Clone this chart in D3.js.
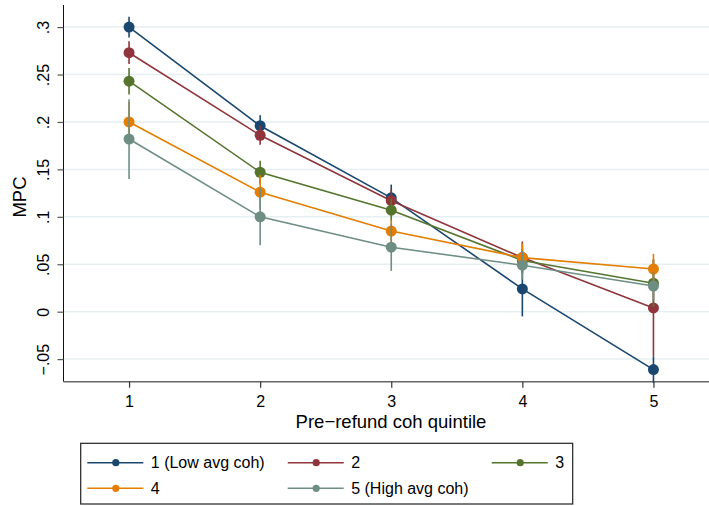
<!DOCTYPE html>
<html lang="en">
<head>
  <meta charset="UTF-8">
  <title>MPC by pre-refund coh quintile</title>
  <script src="https://d3js.org/d3.v7.min.js"></script>
  <style>
    body {
      margin: 0;
      padding: 0;
      background: #fff;
    }
    svg text {
      font-family: "Liberation Sans", Arial, sans-serif;
      fill: #000;
    }
  </style>
</head>
<body>
  <script>
    // data
    const quintiles = [1, 2, 3, 4, 5];
    const seriesNames = ["1 (Low avg coh)", "2", "3", "4", "5 (High avg coh)"];
    const mpc1 = [0.300, 0.196, 0.120, 0.024, -0.061];
    const mpc2 = [0.273, 0.186, 0.117, 0.057, 0.004];
    const mpc3 = [0.243, 0.147, 0.107, 0.054, 0.030];
    const mpc4 = [0.200, 0.126, 0.085, 0.057, 0.045];
    const mpc5 = [0.182, 0.100, 0.068, 0.049, 0.027];
    // half width of the confidence interval
    const ci1 = [0.011, 0.011, 0.014, 0.029, 0.014];
    const ci2 = [0.012, 0.010, 0.012, 0.017, 0.051];
    const ci3 = [0.014, 0.012, 0.012, 0.012, 0.025];
    const ci4 = [0.021, 0.018, 0.012, 0.015, 0.016];
    const ci5 = [0.042, 0.030, 0.025, 0.015, 0.015];
    const yTicks = [-0.05, 0, 0.05, 0.1, 0.15, 0.2, 0.25, 0.3];
    const yTickLabels = ["\u2212.05", "0", ".05", ".1", ".15", ".2", ".25", ".3"];

    const colors = ["#1a476f", "#90353b", "#55752f", "#e37e00", "#6e8e84"];
    const allMpc = [mpc1, mpc2, mpc3, mpc4, mpc5];
    const allCi = [ci1, ci2, ci3, ci4, ci5];

    const W = 709, H = 506;
    const plot = { left: 63.5, right: 719, top: 5, bottom: 381.7 };

    const svg = d3.select("body").append("svg")
      .attr("width", W)
      .attr("height", H);

    const x = d3.scaleLinear().domain([0.5, 5.5]).range([plot.left, plot.right]);
    const y = d3.scaleLinear().domain([-0.0738, 0.3233]).range([plot.bottom, plot.top]);

    // gridlines
    svg.append("g")
      .selectAll("line")
      .data(yTicks)
      .join("line")
      .attr("x1", plot.left)
      .attr("x2", W)
      .attr("y1", d => y(d))
      .attr("y2", d => y(d))
      .attr("stroke", "#e6eff1")
      .attr("stroke-width", 1.5);

    // y axis
    const yAxis = svg.append("g")
      .attr("transform", `translate(${plot.left},0)`)
      .call(d3.axisLeft(y).tickValues(yTicks).tickSize(6).tickFormat((d, i) => yTickLabels[i]));
    yAxis.select(".domain").attr("d", `M0,${plot.top}V${plot.bottom}`).attr("stroke", "#111");
    yAxis.selectAll(".tick line").attr("stroke", "#555").attr("stroke-width", 1.2);
    yAxis.selectAll(".tick text")
      .attr("x", null).attr("dy", null)
      .attr("transform", "translate(-15,0) rotate(-90)")
      .attr("text-anchor", "middle")
      .style("font-size", "16px");

    // x axis
    const xAxis = svg.append("g")
      .attr("transform", `translate(0,${plot.bottom})`)
      .call(d3.axisBottom(x).tickValues(quintiles).tickSize(6).tickFormat(d3.format("d")));
    xAxis.select(".domain").attr("d", `M${plot.left},0H${W}`).attr("stroke", "#666").attr("stroke-width", 1.5);
    xAxis.selectAll(".tick line").attr("stroke", "#333").attr("stroke-width", 1.2);
    xAxis.selectAll(".tick text")
      .attr("y", 25).attr("dy", null)
      .style("font-size", "16px");

    // axis titles
    svg.append("text")
      .attr("transform", "translate(26,197) rotate(-90)")
      .attr("text-anchor", "middle")
      .style("font-size", "18.5px")
      .text("MPC");

    svg.append("text")
      .attr("x", 391)
      .attr("y", 428)
      .attr("text-anchor", "middle")
      .style("font-size", "18.5px")
      .text("Pre\u2212refund coh quintile");

    // series: confidence spikes, connecting line, markers
    const line = d3.line().x(d => x(d.q)).y(d => y(d.v));
    allMpc.forEach((vals, s) => {
      const pts = quintiles.map((q, i) => ({ q, v: vals[i], ci: allCi[s][i] }));
      const g = svg.append("g");
      g.selectAll("line")
        .data(pts)
        .join("line")
        .attr("x1", d => x(d.q))
        .attr("x2", d => x(d.q))
        .attr("y1", d => y(d.v - d.ci))
        .attr("y2", d => y(d.v + d.ci))
        .attr("stroke", colors[s])
        .attr("stroke-width", 1.6);
      g.append("path")
        .datum(pts)
        .attr("d", line)
        .attr("fill", "none")
        .attr("stroke", colors[s])
        .attr("stroke-width", 1.6);
      g.selectAll("circle")
        .data(pts)
        .join("circle")
        .attr("cx", d => x(d.q))
        .attr("cy", d => y(d.v))
        .attr("r", 5.5)
        .attr("fill", colors[s]);
    });

    // legend
    const legend = svg.append("g");
    legend.append("rect")
      .attr("x", 80.7)
      .attr("y", 443.3)
      .attr("width", 492)
      .attr("height", 60.7)
      .attr("fill", "#fff")
      .attr("stroke", "#222")
      .attr("stroke-width", 1.2);

    const colX = [87.3, 287.7, 491.7];
    const rowY = [462.7, 488.3];
    seriesNames.forEach((name, i) => {
      const cx = colX[i % 3], cy = rowY[Math.floor(i / 3)];
      const item = legend.append("g").attr("transform", `translate(${cx},${cy})`);
      item.append("line")
        .attr("x1", 0).attr("x2", 56)
        .attr("stroke", colors[i])
        .attr("stroke-width", 1.6);
      item.append("circle")
        .attr("cx", 28.5)
        .attr("r", 3.6)
        .attr("fill", colors[i]);
      item.append("text")
        .attr("x", 63.5)
        .attr("dy", "0.36em")
        .style("font-size", "16px")
        .text(name);
    });
  </script>
</body>
</html>
